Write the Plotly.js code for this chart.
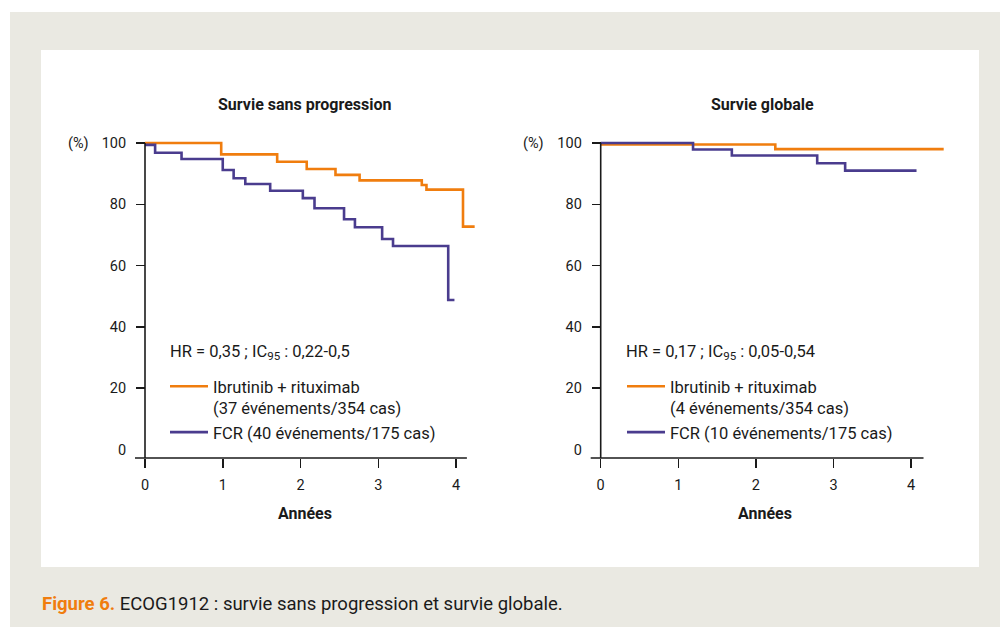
<!DOCTYPE html>
<html>
<head>
<meta charset="utf-8">
<script src="https://cdn.plot.ly/plotly-3.0.1.min.js"></script>
<style>html,body{margin:0;padding:0;background:#fff;}#chart{width:1000px;height:627px;}</style>
</head>
<body>
<div id="chart"></div>
<script>
// ---- Data ----
// Survie sans progression
const pfsIbrTime = [0, 0.98, 1.70, 2.08, 2.45, 2.76, 3.56, 3.62, 4.09, 4.24];
const pfsIbrSurv = [100, 96.3, 93.9, 91.5, 89.6, 87.8, 86.3, 84.8, 72.7, 72.7];
const pfsFcrTime = [0, 0.13, 0.47, 1.00, 1.14, 1.29, 1.61, 2.03, 2.18, 2.56, 2.70, 3.05, 3.19, 3.90, 3.98];
const pfsFcrSurv = [99.4, 96.8, 94.8, 91.2, 88.5, 86.6, 84.4, 82.0, 78.7, 75.1, 72.5, 68.7, 66.4, 48.8, 48.8];
// Survie globale
const osIbrTime = [0, 2.25, 4.42];
const osIbrSurv = [99.5, 98.0, 98.0];
const osFcrTime = [0, 1.19, 1.69, 2.79, 3.15, 4.07];
const osFcrSurv = [100, 97.9, 95.9, 93.4, 91.0, 91.0];

const xTicks = [0, 1, 2, 3, 4];
const yTicks = [20, 40, 60, 80, 100];
const panelTitles = ["Survie sans progression", "Survie globale"];
const ibrLabelPfs = "Ibrutinib + rituximab<br>(37 événements/354 cas)";
const fcrLabelPfs = "FCR (40 événements/175 cas)";
const ibrLabelOs = "Ibrutinib + rituximab<br>(4 événements/354 cas)";
const fcrLabelOs = "FCR (10 événements/175 cas)";
const hrPfs = "HR = 0,35 ; IC<sub>95</sub> : 0,22-0,5";
const hrOs = "HR = 0,17 ; IC<sub>95</sub> : 0,05-0,54";
const xTitle = "Années";
const yUnit = "(%)";
const captionBold = "Figure 6.";
const captionText = " ECOG1912 : survie sans progression et survie globale.";

// ---- Styling / geometry ----
const W = 1000, H = 627;
const fx = p => p / W;
const fy = p => 1 - p / H;
const ORANGE = '#F07D0E';
const BLUE = '#4A3C8E';
const INK = '#1a1a1a';
const FONT = 'Roboto, "Liberation Sans", sans-serif';

// pixel geometry of the two panels
const pxPerYearL = 77.75, x0L = 145;
const pxPerYearR = 77.6, x0R = 600.7;
const y0px = 449.5, pxPerPct = 3.065;
const domL = [125, 485], domR = [580, 950];
const domY = [475, 125];
const yRange = [(y0px - domY[0]) / pxPerPct, (y0px - domY[1]) / pxPerPct];
const xAxisLevel = (y0px - 458) / pxPerPct; // x axis drawn a bit below 0
const xEndL = 4.14, xEndR = 4.16;
const xStartL = -10 / pxPerYearL, xStartR = -10 / pxPerYearR;

function xr(dom, x0, s) { return [(dom[0] - x0) / s, (dom[1] - x0) / s]; }

const lineW = 2.6;
const traces = [
  {x: pfsIbrTime, y: pfsIbrSurv, xaxis: 'x', yaxis: 'y', name: ibrLabelPfs, legend: 'legend',
   mode: 'lines', line: {shape: 'hv', color: ORANGE, width: lineW}, hoverinfo: 'skip'},
  {x: pfsFcrTime, y: pfsFcrSurv, xaxis: 'x', yaxis: 'y', name: fcrLabelPfs, legend: 'legend',
   mode: 'lines', line: {shape: 'hv', color: BLUE, width: lineW}, hoverinfo: 'skip'},
  {x: osIbrTime, y: osIbrSurv, xaxis: 'x2', yaxis: 'y2', name: ibrLabelOs, legend: 'legend2',
   mode: 'lines', line: {shape: 'hv', color: ORANGE, width: lineW}, hoverinfo: 'skip'},
  {x: osFcrTime, y: osFcrSurv, xaxis: 'x2', yaxis: 'y2', name: fcrLabelOs, legend: 'legend2',
   mode: 'lines', line: {shape: 'hv', color: BLUE, width: lineW}, hoverinfo: 'skip'},
  // empty traces so the "0" label axes exist
  {x: [], y: [], xaxis: 'x', yaxis: 'y3', showlegend: false, hoverinfo: 'skip'},
  {x: [], y: [], xaxis: 'x2', yaxis: 'y4', showlegend: false, hoverinfo: 'skip'}
];

const tickFont = {family: FONT, size: 14.5, color: INK};

function xAxis(dom, x0, s) {
  return {
    domain: [fx(dom[0]), fx(dom[1])], range: xr(dom, x0, s),
    anchor: 'free', position: fy(458),
    tickvals: xTicks, ticks: 'outside', ticklen: 9, tickwidth: 1.5, tickcolor: INK,
    ticklabelstandoff: 5,
    showline: false, showgrid: false, zeroline: false, tickfont: tickFont,
    title: {text: '<b>' + xTitle + '</b>', font: {family: FONT, size: 16, color: INK}, standoff: 14},
    fixedrange: true
  };
}
function yAxis(posPx, ticks, overlay, showTicks) {
  const a = {
    domain: [fy(domY[0]), fy(domY[1])], range: yRange,
    anchor: 'free', position: fx(posPx),
    tickvals: ticks, ticks: 'outside', ticklen: 9, tickwidth: 1.5,
    tickcolor: showTicks ? INK : 'rgba(0,0,0,0)',
    ticklabelstandoff: 7,
    showline: false, showgrid: false, zeroline: false, tickfont: tickFont,
    fixedrange: true
  };
  if (overlay) a.overlaying = overlay;
  return a;
}

const axisLine = {color: INK, width: 1.6};
const shapes = [
  // page background
  {type: 'rect', xref: 'paper', yref: 'paper', x0: fx(10), x1: fx(1000), y0: fy(12), y1: fy(627),
   fillcolor: '#EAE9E2', line: {width: 0}, layer: 'below'},
  {type: 'rect', xref: 'paper', yref: 'paper', x0: fx(41), x1: fx(979), y0: fy(50), y1: fy(567),
   fillcolor: '#FFFFFF', line: {width: 0}, layer: 'below'},
  // axis lines
  {type: 'line', xref: 'x', yref: 'y', x0: 0, x1: 0, y0: 100, y1: xAxisLevel, line: axisLine},
  {type: 'line', xref: 'x', yref: 'y', x0: xStartL, x1: xEndL, y0: xAxisLevel, y1: xAxisLevel, line: axisLine},
  {type: 'line', xref: 'x2', yref: 'y2', x0: 0, x1: 0, y0: 100, y1: xAxisLevel, line: axisLine},
  {type: 'line', xref: 'x2', yref: 'y2', x0: xStartR, x1: xEndR, y0: xAxisLevel, y1: xAxisLevel, line: axisLine}
];

const legFont = {family: FONT, size: 16.5, color: INK};
const annotations = [
  {text: '<b>' + panelTitles[0] + '</b>', xref: 'paper', yref: 'paper', x: fx(305), y: fy(104),
   showarrow: false, xanchor: 'center', yanchor: 'middle', font: {family: FONT, size: 16, color: INK}},
  {text: '<b>' + panelTitles[1] + '</b>', xref: 'paper', yref: 'paper', x: fx(762), y: fy(104),
   showarrow: false, xanchor: 'center', yanchor: 'middle', font: {family: FONT, size: 16, color: INK}},
  {text: yUnit, xref: 'paper', yref: 'paper', x: fx(66), y: fy(143), showarrow: false,
   xanchor: 'left', yanchor: 'middle', font: tickFont},
  {text: yUnit, xref: 'paper', yref: 'paper', x: fx(521), y: fy(143), showarrow: false,
   xanchor: 'left', yanchor: 'middle', font: tickFont},
  {text: hrPfs, xref: 'paper', yref: 'paper', x: fx(168), y: fy(352), showarrow: false,
   xanchor: 'left', yanchor: 'middle', font: legFont},
  {text: hrOs, xref: 'paper', yref: 'paper', x: fx(624), y: fy(352), showarrow: false,
   xanchor: 'left', yanchor: 'middle', font: legFont},
  {text: '<b><span style="color:' + ORANGE + '">' + captionBold + '</span></b>' + captionText,
   xref: 'paper', yref: 'paper', x: fx(40), y: fy(604), showarrow: false,
   xanchor: 'left', yanchor: 'middle', font: {family: FONT, size: 18.5, color: INK}}
];

function legendBox(xpx, ypx) {
  return {
    x: fx(xpx), y: fy(ypx), xanchor: 'left', yanchor: 'top',
    bgcolor: 'rgba(0,0,0,0)', borderwidth: 0, valign: 'top',
    font: legFont, itemwidth: 38,
    itemclick: false, itemdoubleclick: false, tracegroupgap: 0
  };
}

const layout = {
  width: W, height: H,
  margin: {l: 0, r: 0, t: 0, b: 0},
  paper_bgcolor: '#FFFFFF', plot_bgcolor: 'rgba(0,0,0,0)',
  font: {family: FONT, color: INK},
  showlegend: true,
  xaxis: xAxis(domL, x0L, pxPerYearL),
  xaxis2: xAxis(domR, x0R, pxPerYearR),
  yaxis: yAxis(x0L, yTicks, null, true),
  yaxis2: yAxis(x0R, yTicks, null, true),
  yaxis3: yAxis(x0L, [0], 'y', false),
  yaxis4: yAxis(x0R, [0], 'y2', false),
  legend: legendBox(165, 369),
  legend2: legendBox(622, 369),
  shapes: shapes,
  annotations: annotations
};

Plotly.newPlot('chart', traces, layout, {staticPlot: true, displayModeBar: false});
</script>
</body>
</html>
